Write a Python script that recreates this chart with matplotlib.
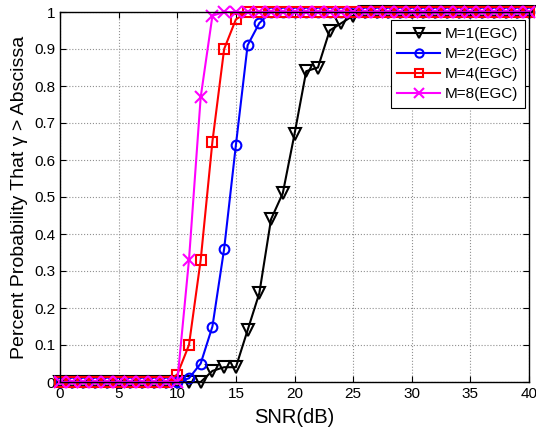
import numpy as np
import matplotlib
matplotlib.use("Agg")
import matplotlib.pyplot as plt

plt.rcParams['font.family'] = ['Liberation Sans', 'DejaVu Sans']

# SNR in dB, one point per dB
snr = list(range(0, 41))

# percent probability
m1 = [0, 0, 0, 0, 0, 0, 0, 0, 0, 0, 0, 0, 0, 0.03, 0.04, 0.04, 0.14, 0.24, 0.44, 0.51,
      0.67, 0.84, 0.85, 0.95, 0.97, 0.99, 1, 1, 1, 1, 1, 1, 1, 1, 1, 1, 1, 1, 1, 1, 1]
m2 = [0, 0, 0, 0, 0, 0, 0, 0, 0, 0, 0, 0.01, 0.05, 0.15, 0.36, 0.64, 0.91, 0.97, 1, 1,
      1, 1, 1, 1, 1, 1, 1, 1, 1, 1, 1, 1, 1, 1, 1, 1, 1, 1, 1, 1, 1]
m4 = [0, 0, 0, 0, 0, 0, 0, 0, 0, 0, 0.02, 0.10, 0.33, 0.65, 0.90, 0.98, 1, 1, 1, 1,
      1, 1, 1, 1, 1, 1, 1, 1, 1, 1, 1, 1, 1, 1, 1, 1, 1, 1, 1, 1, 1]
m8 = [0, 0, 0, 0, 0, 0, 0, 0, 0, 0, 0, 0.33, 0.77, 0.99, 1, 1, 1, 1, 1, 1,
      1, 1, 1, 1, 1, 1, 1, 1, 1, 1, 1, 1, 1, 1, 1, 1, 1, 1, 1, 1, 1]

labels = ["M=1(EGC)", "M=2(EGC)", "M=4(EGC)", "M=8(EGC)"]

fig = plt.figure(figsize=(5.36, 4.30), dpi=100)
ax = fig.add_axes([60/536, 1 - 382/430, 469/536, 370/430])

ax.plot(snr, m1, color="black", marker="v", ms=8, mfc="none", mew=1.5, lw=1.5,
        label=labels[0], clip_on=False)
ax.plot(snr, m2, color="blue", marker="o", ms=7, mfc="none", mew=1.5, lw=1.5,
        label=labels[1], clip_on=False)
ax.plot(snr, m4, color="red", marker="s", ms=7, mfc="none", mew=1.5, lw=1.5,
        label=labels[2], clip_on=False)
ax.plot(snr, m8, color="magenta", marker="x", ms=8, mfc="none", mew=1.5, lw=1.5,
        label=labels[3], clip_on=False)

ax.set_xlim(0, 40)
ax.set_ylim(0, 1)
ax.set_xticks(np.arange(0, 41, 5))
ax.set_yticks(np.arange(0, 1.01, 0.1))
ax.set_yticklabels(["0", "0.1", "0.2", "0.3", "0.4", "0.5", "0.6", "0.7", "0.8", "0.9", "1"])
ax.tick_params(direction="in", top=True, right=True, labelsize=11, length=4, width=0.8)
ax.grid(True, color="#909090", linestyle=":", linewidth=0.8)

ax.set_xlabel("SNR(dB)", fontsize=14.5, labelpad=5)
ax.set_ylabel("Percent Probability That \u03b3 > Abscissa", fontsize=14, labelpad=4)

leg = ax.legend(loc="upper right", bbox_to_anchor=(0.9915, 0.978), borderaxespad=0,
                fontsize=11, frameon=True, fancybox=False, edgecolor="black",
                framealpha=1, handlelength=2.8, labelspacing=0.4, borderpad=0.45,
                handletextpad=0.3, markerscale=0.85)
leg.get_frame().set_linewidth(0.8)

for s in ax.spines.values():
    s.set_linewidth(1.0)

fig.savefig("out.png", dpi=100)
